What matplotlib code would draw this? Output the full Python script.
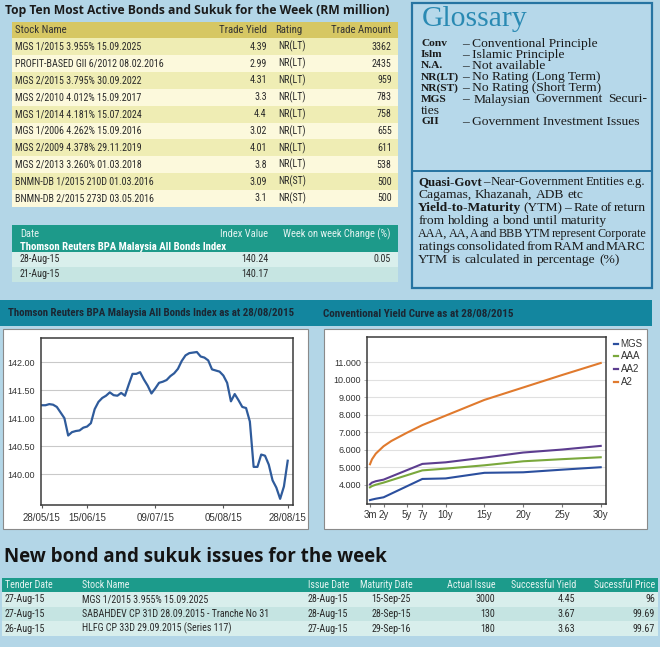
import matplotlib
matplotlib.use("Agg")
import matplotlib.pyplot as plt
from matplotlib.patches import Rectangle
from matplotlib import font_manager as fm

# ---------------- data ----------------
top_title = "Top Ten Most Active Bonds and Sukuk for the Week (RM million)"
top_headers = ["Stock Name", "Trade Yield", "Rating", "Trade Amount"]
top_names = ["MGS 1/2015 3.955% 15.09.2025", "PROFIT-BASED GII 6/2012 08.02.2016",
             "MGS 2/2015 3.795% 30.09.2022", "MGS 2/2010 4.012% 15.09.2017",
             "MGS 1/2014 4.181% 15.07.2024", "MGS 1/2006 4.262% 15.09.2016",
             "MGS 2/2009 4.378% 29.11.2019", "MGS 2/2013 3.260% 01.03.2018",
             "BNMN-DB 1/2015 210D 01.03.2016", "BNMN-DB 2/2015 273D 03.05.2016"]
top_yields = [4.39, 2.99, 4.31, 3.3, 4.4, 3.02, 4.01, 3.8, 3.09, 3.1]
top_ratings = ["NR(LT)"] * 8 + ["NR(ST)"] * 2
top_amounts = [3362, 2435, 959, 783, 758, 655, 611, 538, 500, 500]

index_headers = ["Date", "Index Value", "Week on week Change (%)"]
index_name = "Thomson Reuters BPA Malaysia All Bonds Index"
index_dates = ["28-Aug-15", "21-Aug-15"]
index_values = [140.24, 140.17]
index_changes = ["0.05", ""]

gloss_title = "Glossary"
gloss_terms = ["Conv", "Islm", "N.A.", "NR(LT)", "NR(ST)", "MGS", "ties", "GII"]
gloss_desc = ["– Conventional Principle", "– Islamic Principle", "– Not available",
              "– No Rating (Long Term)", "– No Rating (Short Term)",
              "– Malaysian Government Securi-", "", "– Government Investment Issues"]
gloss2_lines = ["Quasi-Govt – Near-Government Entities e.g.",
                "Cagamas, Khazanah, ADB etc",
                "Yield-to-Maturity (YTM) – Rate of return",
                "from holding a bond until maturity",
                "AAA, AA, A and BBB YTM represent Corporate",
                "ratings consolidated from RAM and MARC",
                "YTM is calculated in percentage (%)"]
gloss2_bold = ["Quasi-Govt", "", "Yield-to-Maturity", "", "", "", ""]
gloss2_justify = [True, False, True, False, True, True, False]

abi_title = "Thomson Reuters BPA Malaysia All Bonds Index as at 28/08/2015"
abi_values = [141.23, 141.23, 141.25, 141.24, 141.20, 141.10, 141.00, 140.69, 140.75, 140.77,
              140.78, 140.83, 140.85, 140.91, 141.16, 141.29, 141.36, 141.40, 141.46, 141.41,
              141.40, 141.45, 141.40, 141.60, 141.79, 141.79, 141.82, 141.69, 141.58, 141.44,
              141.53, 141.63, 141.65, 141.68, 141.75, 141.80, 141.88, 142.02, 142.12, 142.16,
              142.17, 142.18, 142.10, 142.08, 142.03, 141.87, 141.85, 141.83, 141.76, 141.63,
              141.30, 141.43, 141.32, 141.20, 141.18, 140.94, 140.13, 140.13, 140.35, 140.33,
              140.17, 139.89, 139.76, 139.56, 139.78, 140.24]
abi_tick_pos = [0, 12, 30, 48, 65]
abi_tick_labels = ["28/05/15", "15/06/15", "09/07/15", "05/08/15", "28/08/15"]
abi_yticks = [140.0, 140.5, 141.0, 141.5, 142.0]

yc_title = "Conventional Yield Curve as at 28/08/2015"
yc_tenors = [0.25, 0.5, 1, 2, 3, 5, 7, 10, 15, 20, 25, 30]
yc_mgs = [3.12, 3.15, 3.20, 3.28, 3.49, 3.91, 4.33, 4.36, 4.68, 4.71, 4.86, 5.00]
yc_aaa = [3.85, 3.92, 4.00, 4.12, 4.26, 4.54, 4.82, 4.92, 5.11, 5.34, 5.46, 5.57]
yc_aa2 = [4.02, 4.12, 4.20, 4.29, 4.47, 4.83, 5.19, 5.28, 5.55, 5.84, 6.01, 6.22]
yc_a2 = [5.17, 5.45, 5.78, 6.20, 6.50, 6.97, 7.41, 7.95, 8.85, 9.56, 10.27, 10.96]
yc_names = ["MGS", "AAA", "AA2", "A2"]
yc_xticks = [0.25, 2, 5, 7, 10, 15, 20, 25, 30]
yc_xlabels = ["3m", "2y", "5y", "7y", "10y", "15y", "20y", "25y", "30y"]
yc_yticks = [4, 5, 6, 7, 8, 9, 10, 11]

new_title = "New bond and sukuk issues for the week"
new_headers = ["Tender Date", "Stock Name", "Issue Date", "Maturity Date",
               "Actual Issue", "Successful Yield", "Sucessful Price"]
new_tender = ["27-Aug-15", "27-Aug-15", "26-Aug-15"]
new_stock = ["MGS 1/2015 3.955% 15.09.2025", "SABAHDEV CP 31D 28.09.2015 - Tranche No 31",
             "HLFG CP 33D 29.09.2015 (Series 117)"]
new_issue = ["28-Aug-15", "28-Aug-15", "27-Aug-15"]
new_maturity = ["15-Sep-25", "28-Sep-15", "29-Sep-16"]
new_actual = [3000, 130, 180]
new_yield = [4.45, 3.67, 3.63]
new_price = [96, 99.69, 99.67]

# ---------------- styling ----------------
avail = {f.name for f in fm.fontManager.ttflist}


def pick(*names):
    return [n for n in names if n in avail] + ["DejaVu Sans"]


NARROW = pick("Liberation Sans Narrow", "Roboto Condensed", "Liberation Sans", "Roboto")
HEAD = pick("Open Sans", "Lato", "Noto Sans")
SERIF = pick("Liberation Serif", "DejaVu Serif")
plt.rcParams["font.family"] = pick("Liberation Sans", "Roboto")

BG = "#b3d6e7"
W, H = 660, 647
fig = plt.figure(figsize=(6.6, 6.47), dpi=100)
fig.patch.set_facecolor(BG)
bg = fig.add_axes([0, 0, 1, 1])
bg.set_xlim(0, W)
bg.set_ylim(H, 0)
bg.axis("off")
R = fig.canvas.get_renderer()


def rect(x0, y0, x1, y1, fc, ec="none", lw=0, z=1):
    bg.add_patch(Rectangle((x0, y0), x1 - x0, y1 - y0, facecolor=fc,
                           edgecolor=ec, linewidth=lw, zorder=z))


def measure(s, size, family, weight="normal"):
    t = bg.text(0, 0, s, fontsize=size, family=family, weight=weight)
    w = t.get_window_extent(R).width
    t.remove()
    return w


def put(x, y, s, size, family, ha="left", va="center", weight="normal",
        color="#222222", width=None, z=5):
    t = bg.text(x, y, s, fontsize=size, family=family, ha=ha, va=va,
                weight=weight, color=color, zorder=z)
    if width:
        w = t.get_window_extent(R).width
        t.set_fontsize(size * width / w)
    return t


def justify(x0, x1, y, runs, size, family, color):
    widths = [measure(w, size, family, wt) for w, wt in runs]
    total = sum(widths)
    n = len(runs)
    gap = (x1 - x0 - total) / (n - 1) if n > 1 else 0
    if gap < 1.0:
        sc = (x1 - x0 - (n - 1) * 1.0) / total
        size *= sc
        widths = [w * sc for w in widths]
        gap = 1.0
    x = x0
    for (w, wt), wd in zip(runs, widths):
        bg.text(x, y, w, fontsize=size, family=family, weight=wt, ha="left",
                va="center", color=color, zorder=5)
        x += wd + gap


# cell font size: make the first stock name about as wide as in the reference
cell = 6.8 * 128 / measure(top_names[0], 6.8, NARROW)
cell = max(5.0, min(cell, 9.0))
TXT = "#2a2a2a"

# ---------------- top-left table ----------------
put(5, 10.5, top_title, 11, HEAD, weight="bold", color="#1b1b1b", width=385)
rect(11.7, 21.7, 398, 38.3, "#d6c763")
hy = 30
put(15, hy, top_headers[0], cell * 1.08, NARROW, color="#333333")
put(266.7, hy, top_headers[1], cell * 1.08, NARROW, ha="right", color="#333333")
put(275, hy, top_headers[2], cell * 1.08, NARROW, color="#333333")
put(391.7, hy, top_headers[3], cell * 1.08, NARROW, ha="right", color="#333333")
rh = 16.85
for i in range(len(top_names)):
    y0 = 38.3 + i * rh
    rect(11.7, y0, 398, y0 + rh, "#efedb4" if i % 2 == 0 else "#fcf9dc")
    yc = y0 + rh / 2
    put(15, yc, top_names[i], cell, NARROW, color=TXT)
    put(266.7, yc, f"{top_yields[i]:g}", cell, NARROW, ha="right", color=TXT)
    put(278, yc, top_ratings[i], cell, NARROW, color=TXT)
    put(391.7, yc, f"{top_amounts[i]}", cell, NARROW, ha="right", color=TXT)

# index table
rect(11.7, 225, 398, 252.3, "#1d9a8a")
put(20, 234, index_headers[0], cell * 1.05, NARROW, color="#e4f3f1")
put(268, 234, index_headers[1], cell * 1.05, NARROW, ha="right", color="#e4f3f1")
put(390.7, 234, index_headers[2], cell * 1.05, NARROW, ha="right", color="#e4f3f1")
put(20, 246.5, index_name, 8, NARROW, weight="bold", color="#ffffff", width=208)
ir = [(252.3, 266.7, "#d9efec"), (266.7, 281.7, "#c6e5e2")]
for i, (a, b, c) in enumerate(ir):
    rect(11.7, a, 398, b, c)
    yc = (a + b) / 2
    put(20, yc, index_dates[i], cell, NARROW, color=TXT)
    put(268, yc, f"{index_values[i]:.2f}", cell, NARROW, ha="right", color=TXT)
    put(390.7, yc, index_changes[i], cell, NARROW, ha="right", color=TXT)

# ---------------- glossary ----------------
rect(411.5, 3, 652, 288, "#b6d8ea", ec="#2674a2", lw=1.6, z=1)
bg.plot([411.5, 652], [171, 171], color="#2674a2", lw=1.4, zorder=2)
put(421.7, 26, gloss_title, 22, SERIF, va="baseline", color="#2a8ab3", width=106)
gsz = 9 * 135 / measure(gloss_desc[0], 9, SERIF)
tsz = gsz * 0.84
GC = "#1a1a1a"
for i, (term, desc) in enumerate(zip(gloss_terms, gloss_desc)):
    y = 43.5 + 11.2 * i
    if desc:
        put(421, y, term, tsz, SERIF, weight="bold", color=GC)
        if desc.endswith("-"):
            justify(462, 646.7, y, [(w, "normal") for w in desc.split()], gsz, SERIF, GC)
        else:
            put(462, y, desc, gsz, SERIF, color=GC)
    else:
        put(421, y, term, gsz, SERIF, color=GC)

for i, line in enumerate(gloss2_lines):
    y = 181.7 + 13.1 * i
    words = line.split()
    runs = []
    b = gloss2_bold[i]
    for w in words:
        runs.append((w, "bold" if b and w == b else "normal"))
    if gloss2_justify[i]:
        justify(418.3, 645.5, y, runs, gsz, SERIF, GC)
    else:
        x = 418.3
        sp = measure("a a", gsz, SERIF) - measure("aa", gsz, SERIF)
        for w, wt in runs:
            put(x, y, w, gsz, SERIF, weight=wt, color=GC)
            x += measure(w, gsz, SERIF, wt) + sp

# ---------------- middle charts ----------------
rect(0, 300, 652, 326, "#13869f")
put(8.3, 313.3, abi_title, 8, NARROW, weight="bold", color="#1b2733", width=288)
put(323.3, 313.3, yc_title, 8, NARROW, weight="bold", color="#1b2733", width=190)
rect(2.7, 329.3, 308, 529.3, "white", ec="#8a8a8a", lw=0.8)
rect(324, 329.3, 646.7, 529.3, "white", ec="#8a8a8a", lw=0.8)


def px2fig(x0, y0, x1, y1):
    return [x0 / W, 1 - y1 / H, (x1 - x0) / W, (y1 - y0) / H]


ax1 = fig.add_axes(px2fig(40.7, 338, 293, 505))
ax1.plot(range(len(abi_values)), abi_values, color="#2f5b9b", lw=1.6)
ax1.set_xlim(-0.26, 66.4)
ax1.set_ylim(139.45, 142.43)
ax1.set_yticks(abi_yticks)
ax1.set_yticklabels([f"{v:.2f}" for v in abi_yticks])
ax1.set_xticks(abi_tick_pos)
ax1.set_xticklabels(abi_tick_labels)
ax1.grid(axis="y", color="#c9c9c9", lw=0.8)
ax1.set_axisbelow(True)
for s in ax1.spines.values():
    s.set_color("#3a3a3a")
    s.set_linewidth(1.1)
ax1.tick_params(axis="x", length=2.5, width=0.8, color="#555555", labelsize=7,
                pad=3, labelcolor="#333333")
ax1.tick_params(axis="y", length=0, labelsize=6.5, pad=4, labelcolor="#333333")

ax2 = fig.add_axes(px2fig(366.7, 337.3, 606, 504))
yc_colors = ["#2b4f9e", "#7aa83c", "#5c3d8f", "#e07a2e"]
for vals, col in zip([yc_mgs, yc_aaa, yc_aa2, yc_a2], yc_colors):
    ax2.plot(yc_tenors, vals, color=col, lw=1.5)
ax2.set_xlim(-0.176, 30.68)
ax2.set_ylim(2.897, 12.43)
ax2.set_yticks(yc_yticks)
ax2.set_yticklabels([f"{v:.3f}" for v in yc_yticks])
ax2.set_xticks(yc_xticks)
ax2.set_xticklabels(yc_xlabels)
ax2.grid(axis="y", color="#e0e0e0", lw=0.8)
ax2.set_axisbelow(True)
for s in ax2.spines.values():
    s.set_color("#3a3a3a")
    s.set_linewidth(1.1)
ax2.tick_params(axis="x", length=2.5, width=0.8, color="#777777", labelsize=7,
                pad=2, labelcolor="#333333")
ax2.tick_params(axis="y", length=2, width=0.6, color="#aaaaaa", labelsize=6.5,
                pad=2, labelcolor="#333333")

for i, (nm, col) in enumerate(zip(yc_names, yc_colors)):
    y = 343.8 + 12.6 * i
    bg.plot([613.5, 618], [y, y], color=col, lw=1.6, zorder=6)
    put(620.5, y, nm, 7, pick("Liberation Sans"), color="#333333", z=6)

# ---------------- bottom table ----------------
put(4.3, 557, new_title, 15, HEAD, weight="bold", color="#141414", width=382)
rect(2, 578, 658, 592, "#1c9b8b")
HC = "#e6f4f2"
hy = 585
put(5, hy, new_headers[0], cell, NARROW, color=HC)
put(82, hy, new_headers[1], cell, NARROW, color=HC)
put(308, hy, new_headers[2], cell, NARROW, color=HC)
put(413, hy, new_headers[3], cell, NARROW, ha="right", color=HC)
put(496, hy, new_headers[4], cell, NARROW, ha="right", color=HC)
put(576, hy, new_headers[5], cell, NARROW, ha="right", color=HC)
put(655, hy, new_headers[6], cell, NARROW, ha="right", color=HC)
nr = 14.6
for i in range(len(new_stock)):
    y0 = 592 + i * nr
    rect(2, y0, 658, y0 + nr, "#d8eeec" if i % 2 == 0 else "#c5e4e2")
    yc = y0 + nr / 2
    put(5, yc, new_tender[i], cell, NARROW, color=TXT)
    put(82, yc, new_stock[i], cell, NARROW, color=TXT)
    put(308, yc, new_issue[i], cell, NARROW, color=TXT)
    put(410.6, yc, new_maturity[i], cell, NARROW, ha="right", color=TXT)
    put(495, yc, f"{new_actual[i]}", cell, NARROW, ha="right", color=TXT)
    put(575, yc, f"{new_yield[i]:g}", cell, NARROW, ha="right", color=TXT)
    put(655, yc, f"{new_price[i]:g}", cell, NARROW, ha="right", color=TXT)

fig.savefig("out.png", dpi=100, facecolor=BG)
